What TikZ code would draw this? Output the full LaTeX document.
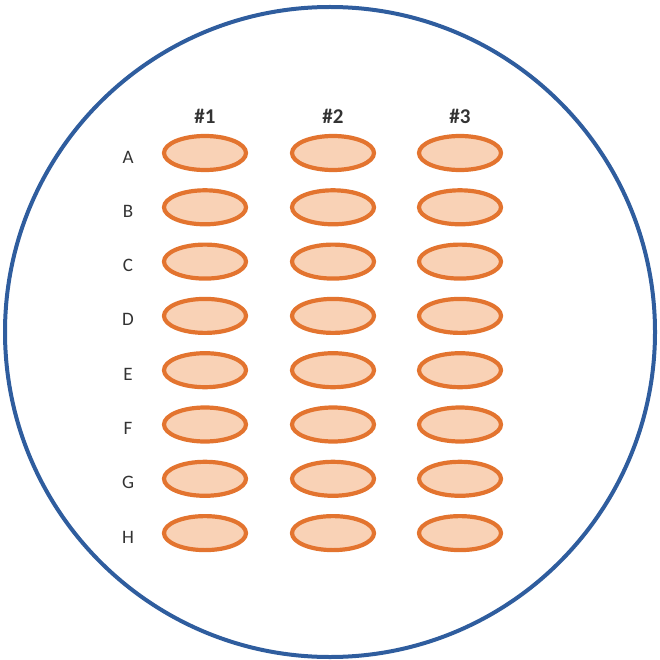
\documentclass[tikz,border=0pt]{standalone}
\usepackage{fontspec}
\setmainfont{Carlito}
\usetikzlibrary{shapes.geometric}
\definecolor{rim}{HTML}{2F5D9E}
\definecolor{wellline}{HTML}{E3742F}
\definecolor{wellfill}{HTML}{F9D2B6}
\definecolor{labelgray}{HTML}{333333}
\begin{document}
\begin{tikzpicture}[x=1pt,y=-1pt,
  well/.style={ellipse,draw=wellline,fill=wellfill,line width=4.2pt,
    minimum width=82pt,minimum height=34pt,inner sep=0pt},
  rowlabel/.style={font=\fontsize{19}{19}\selectfont,text=labelgray},
  collabel/.style={font=\bfseries\fontsize{21}{21}\selectfont,text=labelgray}]
\useasboundingbox (0,0) rectangle (659,660);
% dish outline
\node[circle,draw=rim,line width=4pt,minimum size=650pt,inner sep=0pt] (dish) at (330,332) {};
% column headers
\foreach \c/\x in {1/205,2/333,3/460}
  \node[collabel] (col\c) at (\x,116) {\#\c};
% rows of wells
\foreach \r [count=\i from 0] in {A,B,C,D,E,F,G,H} {
  \pgfmathsetmacro{\y}{153+54.3*\i}
  \node[rowlabel] (row\r) at (128,\y+4) {\r};
  \foreach \c/\x in {1/205,2/333,3/460}
    \node[well] (w\r\c) at (\x,\y) {};
}
\end{tikzpicture}
\end{document}
